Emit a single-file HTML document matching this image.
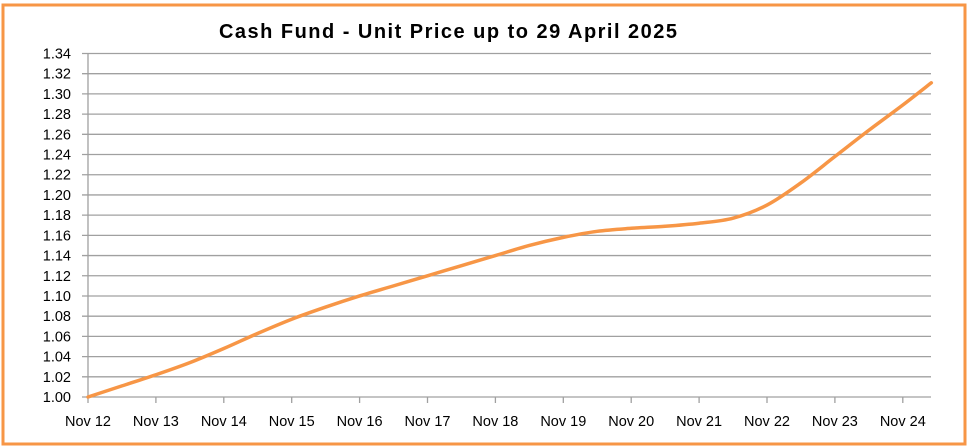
<!DOCTYPE html>
<html><head><meta charset="utf-8"><style>
html,body{margin:0;padding:0;background:#fff;}
svg{display:block;font-family:"Liberation Sans",Calibri,sans-serif;}
</style></head><body>
<svg id="c" width="969" height="447">
<rect x="3" y="5" width="962" height="439" fill="#fff" stroke="#f79646" stroke-width="3"/>
<text x="448" y="38" text-anchor="middle" font-size="20" font-weight="bold" fill="#000" textLength="458">Cash Fund - Unit Price up to 29 April 2025</text>
<g id="grid"></g>
<g id="axes"></g>
<path id="line" fill="none" stroke="#f79646" stroke-width="3.5" stroke-linejoin="round" stroke-linecap="round"/>
</svg>
<script>
const xLabels=["Nov 12","Nov 13","Nov 14","Nov 15","Nov 16","Nov 17","Nov 18","Nov 19","Nov 20","Nov 21","Nov 22","Nov 23","Nov 24"];
const yTicks=[1.00,1.02,1.04,1.06,1.08,1.10,1.12,1.14,1.16,1.18,1.20,1.22,1.24,1.26,1.28,1.30,1.32,1.34];
const times=[0,0.5,1,1.5,2,2.5,3,3.5,4,4.5,5,5.5,6,6.5,7,7.5,8,8.5,9,9.5,10,10.5,11,11.5,12,12.42];
const prices=[1.000,1.011,1.022,1.034,1.048,1.063,1.077,1.089,1.100,1.110,1.120,1.130,1.140,1.150,1.158,1.164,1.167,1.169,1.172,1.177,1.190,1.212,1.238,1.264,1.289,1.311];
const X0=88,XS=67.9,Y0=397,Y1=53.5,VMIN=1.00,VMAX=1.34,XEND=931;
const x=t=>X0+t*XS, y=v=>Y0-(v-VMIN)/(VMAX-VMIN)*(Y0-Y1);
const NS="http://www.w3.org/2000/svg";
const grid=document.getElementById('grid'),axes=document.getElementById('axes');
function mk(tag,attrs,parent,text){const e=document.createElementNS(NS,tag);for(const k in attrs)e.setAttribute(k,attrs[k]);if(text!==undefined)e.textContent=text;parent.appendChild(e);return e;}
yTicks.forEach((v,i)=>{
  const l=mk('line',{x1:X0-6,x2:XEND,y1:y(v),y2:y(v),stroke:'#a0a0a0','stroke-width':1.3},grid);
  
  
  const t=mk('text',{x:X0-17,y:y(v)+5,'text-anchor':'end','font-size':14.5,fill:'#000'},axes,v.toFixed(2));
  
  
});
const ax=mk('line',{x1:X0,x2:X0,y1:Y1,y2:Y0,stroke:'#a0a0a0','stroke-width':1.3},axes);


xLabels.forEach((s,i)=>{
  const tk=mk('line',{x1:x(i),x2:x(i),y1:Y0,y2:Y0+6,stroke:'#a0a0a0','stroke-width':1.3},axes);
  
  
  const t=mk('text',{x:x(i),y:Y0+29,'text-anchor':'middle','font-size':14.5,fill:'#000'},axes,s);
  
  
});
const pts=times.map((t,i)=>[x(t),y(prices[i])]);
let d='M'+pts[0][0]+','+pts[0][1];
for(let i=0;i<pts.length-1;i++){
  const p0=pts[Math.max(0,i-1)],p1=pts[i],p2=pts[i+1],p3=pts[Math.min(pts.length-1,i+2)];
  const c1=[p1[0]+(p2[0]-p0[0])/6,p1[1]+(p2[1]-p0[1])/6],c2=[p2[0]-(p3[0]-p1[0])/6,p2[1]-(p3[1]-p1[1])/6];
  d+=` C${c1[0]},${c1[1]} ${c2[0]},${c2[1]} ${p2[0]},${p2[1]}`;
}
document.getElementById('line').setAttribute('d',d);
</script>
</body></html>
